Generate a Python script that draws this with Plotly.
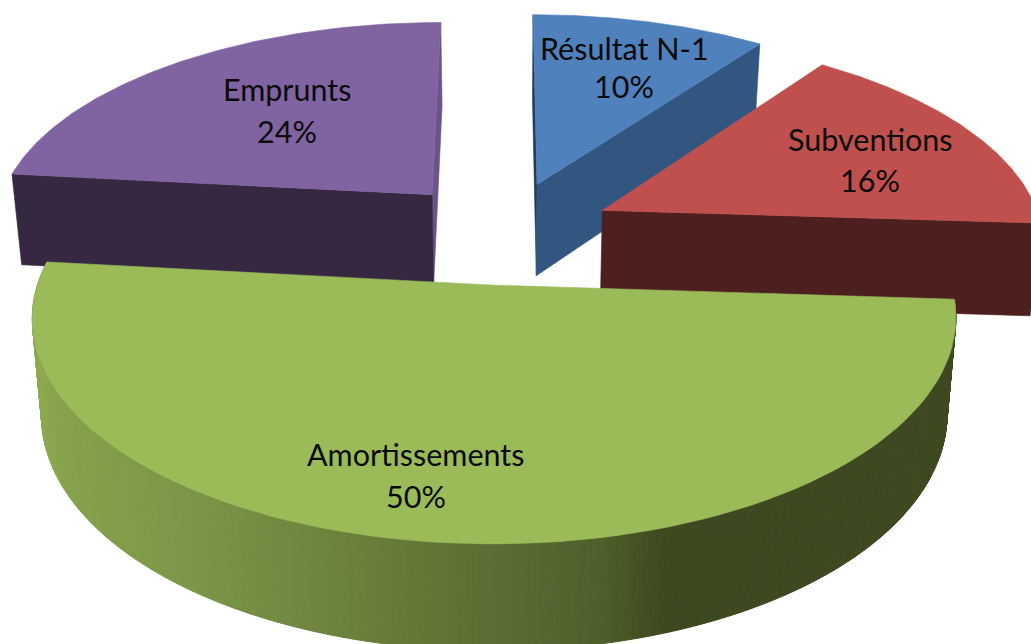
import math
import plotly.graph_objects as go

# Data
categories = ["Résultat N-1", "Subventions", "Amortissements", "Emprunts"]
shown_percent = [10, 16, 50, 24]
values = [10.0, 16.0, 50.7, 23.3]

# Styles
top_colors = ["#4F81BD", "#C0504D", "#9BBB59", "#8064A2"]
cut_colors = ["#32567F", "#4E1F1F", "#3D481F", "#352840"]
near_cut_colors = ["#1F3A5A", "#3A1716", "#3D481F", "#6A5388"]
side_stop_px = [30, 60, 200, 400, 500, 600, 660, 1000]
side_stop_rgb = [(145, 172, 82), (134, 162, 75), (122, 149, 71), (101, 122, 56),
                 (90, 109, 51), (78, 96, 41), (62, 73, 32), (62, 73, 32)]
label_pos = [(624, 48), (870, 139), (416, 454), (287, 89)]
label_gap = [38, 41, 42, 42]

# Camera and pie geometry
CX, CY, SX, SY, DEPTH, HEIGHT, SHRINK, EXPLODE = 504, 232, 441, 206, 0.14, 95, 0.02, 0.25


def project(x, y, z=0.0):
    w = (1 + DEPTH * y) * (1 + SHRINK * z)
    return CX + SX * x / w, CY + (-SY * y + HEIGHT * z) / w


def rim(ox, oy, a, z=0.0):
    r = math.radians(a)
    return project(ox + math.sin(r), oy + math.cos(r), z)


def arc_angles(a0, a1, n=90):
    return [a0 + (a1 - a0) * i / n for i in range(n + 1)]


def side_color(px):
    if px <= side_stop_px[0]:
        c = side_stop_rgb[0]
    else:
        c = side_stop_rgb[-1]
        for i in range(len(side_stop_px) - 1):
            if side_stop_px[i] <= px <= side_stop_px[i + 1]:
                f = (px - side_stop_px[i]) / (side_stop_px[i + 1] - side_stop_px[i])
                c = tuple(side_stop_rgb[i][k] + f * (side_stop_rgb[i + 1][k] - side_stop_rgb[i][k]) for k in range(3))
                break
    return "rgb(%d,%d,%d)" % tuple(round(v) for v in c)


fig = go.Figure()


def poly(points, color, width=0.6):
    fig.add_trace(go.Scatter(
        x=[p[0] for p in points] + [points[0][0]],
        y=[p[1] for p in points] + [points[0][1]],
        mode="lines", fill="toself", fillcolor=color,
        line=dict(color=color, width=width), hoverinfo="skip", showlegend=False,
    ))


total = sum(values)
bounds = [0.0]
for v in values:
    bounds.append(bounds[-1] + 360.0 * v / total)

slices = []
for i, name in enumerate(categories):
    a0, a1 = bounds[i], bounds[i + 1]
    mid = math.radians((a0 + a1) / 2)
    slices.append((i, a0, a1, EXPLODE * math.sin(mid), EXPLODE * math.cos(mid)))

# Painter's order: far slices first, the large front slice last
for i, a0, a1, ox, oy in [slices[0], slices[3], slices[1], slices[2]]:
    # thin far radial face
    if i in (0, 3):
        edge = a0 if i == 0 else a1
        poly([project(ox, oy), rim(ox, oy, edge), rim(ox, oy, edge, 1), project(ox, oy, 1)], near_cut_colors[i])
    # main radial face
    if i != 2:
        main = a0 if i == 3 else a1
        poly([project(ox, oy), rim(ox, oy, main), rim(ox, oy, main, 1), project(ox, oy, 1)], cut_colors[i])
    # outer wall of the front slice with its horizontal shading
    if i == 2:
        ang = arc_angles(a0, a1, 360)
        for p, q in zip(ang[:-1], ang[1:]):
            pts = [rim(ox, oy, p), rim(ox, oy, q), rim(ox, oy, q, 1), rim(ox, oy, p, 1)]
            poly(pts, side_color(sum(t[0] for t in pts) / 4), 1)
    # top face
    poly([project(ox, oy)] + [rim(ox, oy, a) for a in arc_angles(a0, a1)], top_colors[i])

annotations = []
for name, pct, (lx, ly), gap in zip(categories, shown_percent, label_pos, label_gap):
    for text, yy in ((name, ly), (f"{pct}%", ly + gap)):
        annotations.append(dict(x=lx, y=yy, xref="x", yref="y", text=text, showarrow=False,
                                xanchor="center", yanchor="middle",
                                font=dict(family="Lato", size=30.5, color="#0A0A0A")))

fig.update_layout(
    width=1031, height=644, margin=dict(l=0, r=0, t=0, b=0),
    paper_bgcolor="white", plot_bgcolor="white", showlegend=False,
    xaxis=dict(range=[0, 1031], visible=False, fixedrange=True),
    yaxis=dict(range=[644, 0], visible=False, fixedrange=True),
    annotations=annotations,
)
fig.write_html("out.html", config={"displayModeBar": False},
               post_script="document.body.style.margin='0';document.body.style.overflow='hidden';")
